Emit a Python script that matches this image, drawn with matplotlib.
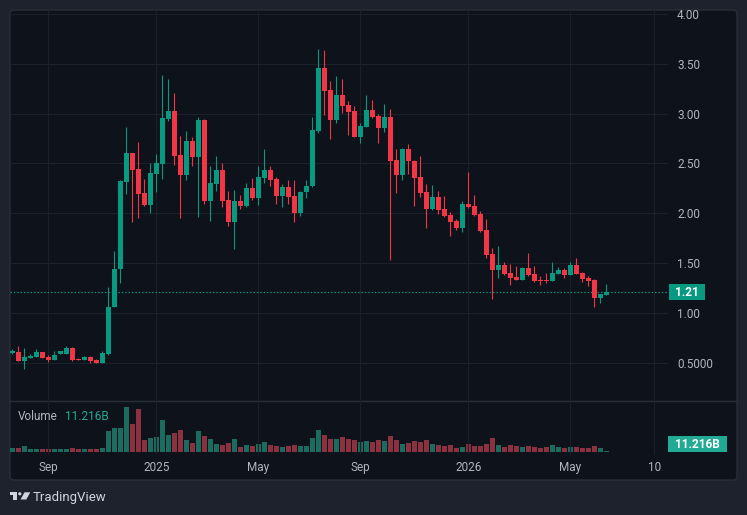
import matplotlib
matplotlib.use('Agg')
import matplotlib.pyplot as plt
from matplotlib.patches import FancyBboxPatch, Rectangle, Polygon, Circle
import numpy as np

plt.rcParams['font.family'] = ['Roboto', 'DejaVu Sans']

# weekly candles (price in USD)
opens = [0.601, 0.608, 0.518, 0.548, 0.558, 0.608, 0.558, 0.528, 0.588, 0.588,
         0.648, 0.541, 0.528, 0.558, 0.528, 0.498, 0.588, 1.060, 1.441, 2.314,
         2.605, 2.445, 2.204, 2.083, 2.394, 2.495, 2.946, 3.027, 2.585, 2.384,
         2.726, 2.565, 2.936, 2.123, 2.294, 2.435, 2.133, 1.913, 2.123, 2.073,
         2.254, 2.154, 2.354, 2.435, 2.344, 2.174, 2.264, 2.174, 2.003, 2.214,
         2.274, 2.826, 3.458, 3.237, 2.936, 3.187, 3.087, 3.027, 2.766, 2.866,
         3.037, 2.976, 2.856, 2.966, 2.535, 2.384, 2.645, 2.525, 2.364, 2.214,
         2.043, 2.164, 2.043, 1.983, 1.923, 1.853, 2.093, 2.073, 1.993, 1.833,
         1.592, 1.431, 1.481, 1.401, 1.361, 1.331, 1.451, 1.391, 1.331, 1.331,
         1.321, 1.391, 1.431, 1.381, 1.481, 1.401, 1.351, 1.331, 1.150, 1.180]
highs = [0.641, 0.668, 0.648, 0.588, 0.638, 0.608, 0.578, 0.618, 0.618, 0.668,
         0.658, 0.548, 0.568, 0.568, 0.538, 0.618, 1.260, 1.622, 2.334, 2.866,
         2.605, 2.716, 2.344, 2.505, 2.595, 3.388, 3.348, 3.207, 2.776, 2.826,
         2.766, 2.966, 2.946, 2.475, 2.575, 2.505, 2.224, 2.234, 2.184, 2.304,
         2.354, 2.475, 2.645, 2.475, 2.364, 2.294, 2.334, 2.334, 2.224, 2.334,
         2.966, 3.649, 3.639, 3.328, 3.378, 3.348, 3.127, 3.077, 2.906, 3.187,
         3.137, 2.996, 3.097, 3.047, 2.645, 2.655, 2.695, 2.535, 2.575, 2.294,
         2.284, 2.224, 2.174, 2.013, 1.943, 2.123, 2.414, 2.184, 2.023, 1.943,
         1.652, 1.672, 1.511, 1.491, 1.471, 1.461, 1.602, 1.471, 1.371, 1.401,
         1.511, 1.461, 1.451, 1.511, 1.551, 1.411, 1.371, 1.341, 1.190, 1.291]
lows = [0.588, 0.518, 0.438, 0.548, 0.558, 0.548, 0.508, 0.528, 0.588, 0.588,
        0.518, 0.528, 0.528, 0.498, 0.498, 0.498, 0.578, 1.060, 1.301, 2.194,
        1.913, 1.953, 2.073, 2.003, 2.214, 2.344, 2.926, 2.485, 1.953, 2.334,
        2.475, 1.963, 2.093, 1.923, 2.224, 2.063, 1.873, 1.642, 2.043, 2.063,
        2.133, 2.083, 2.304, 2.274, 2.093, 2.063, 2.093, 1.913, 1.973, 2.154,
        2.264, 2.806, 2.986, 2.746, 2.906, 3.007, 2.786, 2.766, 2.706, 2.866,
        2.956, 2.706, 2.816, 1.531, 2.204, 2.334, 2.394, 2.073, 2.164, 1.853,
        2.033, 1.993, 1.963, 1.772, 1.833, 1.812, 2.053, 1.973, 1.812, 1.551,
        1.140, 1.351, 1.381, 1.281, 1.331, 1.331, 1.371, 1.311, 1.281, 1.301,
        1.321, 1.391, 1.351, 1.381, 1.391, 1.311, 1.271, 1.060, 1.100, 1.180]
closes = [0.618, 0.518, 0.558, 0.571, 0.608, 0.548, 0.528, 0.578, 0.618, 0.648,
          0.528, 0.528, 0.558, 0.518, 0.498, 0.598, 1.060, 1.441, 2.324, 2.605,
          2.435, 2.194, 2.083, 2.405, 2.505, 2.956, 3.027, 2.575, 2.384, 2.726,
          2.565, 2.936, 2.123, 2.304, 2.435, 2.123, 1.913, 2.123, 2.073, 2.254,
          2.154, 2.364, 2.435, 2.334, 2.174, 2.264, 2.164, 2.003, 2.214, 2.274,
          2.836, 3.458, 3.227, 2.936, 3.187, 3.077, 3.017, 2.766, 2.876, 3.037,
          2.966, 2.856, 2.966, 2.525, 2.384, 2.645, 2.525, 2.354, 2.204, 2.043,
          2.164, 2.033, 1.973, 1.913, 1.853, 2.093, 2.063, 1.983, 1.822, 1.582,
          1.431, 1.481, 1.391, 1.351, 1.331, 1.451, 1.381, 1.321, 1.321, 1.321,
          1.401, 1.431, 1.381, 1.481, 1.391, 1.341, 1.321, 1.150, 1.190, 1.210]
# weekly volume, billions
volumes = [10, 10, 14.2, 6.7, 6.7, 6.7, 6.7, 6.7, 6.7, 6.7,
           10, 6.7, 6.7, 6.7, 6.7, 10, 51.8, 59.2, 59.2, 111.8,
           69.2, 106.8, 29.2, 34.2, 35.8, 79.2, 41.8, 46.8, 55, 29.2,
           21.8, 51.8, 38.2, 31.8, 19.2, 16.8, 21.8, 31.8, 11.8, 16.8,
           14.2, 19.2, 24.2, 16.8, 14.2, 11.8, 14.2, 16.8, 14.2, 14.2,
           35, 55, 42.5, 32.5, 32.5, 37.5, 32.5, 30, 25, 27.5,
           25, 30, 27.5, 40, 30, 20, 22.5, 27.5, 25, 30,
           20, 17.5, 15, 17.5, 10, 12.5, 20, 15, 15, 20,
           35, 17.5, 12.5, 17.5, 15, 12.5, 15, 12.5, 10, 12.5,
           17.5, 12.5, 10, 12.5, 12.5, 10, 10, 15, 10, 0.8]

tick_idx = [6, 24, 41, 58, 76, 93, 107]
tick_labels = ['Sep', '2025', 'May', 'Sep', '2026', 'May', '10']
price_ticks = [0.5, 1.0, 1.5, 2.0, 2.5, 3.0, 3.5, 4.0]
price_labels = ['0.5000', '1.00', '1.50', '2.00', '2.50', '3.00', '3.50', '4.00']
last_price = 1.21
last_volume = '11.216B'

UP, DOWN = '#089981', '#f23645'
VUP, VDOWN = '#1b6b5e', '#8c313f'
TXT = '#b2b5be'
GRID = '#1c202b'
BG = '#0e121a'

W, H = 747, 515
fig = plt.figure(figsize=(W / 100, H / 100), dpi=100, facecolor='#1e222d')


def rect(x0, y0, x1, y1):
    return [x0 / W, 1 - y1 / H, (x1 - x0) / W, (y1 - y0) / H]


bg = fig.add_axes([0, 0, 1, 1], zorder=0)
bg.set_xlim(0, W)
bg.set_ylim(H, 0)
bg.axis('off')
bg.add_patch(FancyBboxPatch((10, 10), 727, 470, boxstyle='round,pad=0,rounding_size=4',
                            fc=BG, ec='#2a2e39', lw=1))
bg.plot([10, 737], [400.5, 400.5], color='#2a2e39', lw=1)

x = np.arange(len(opens))
o = np.array(opens)
c = np.array(closes)
up = c >= o
colors = np.where(up, UP, DOWN)

ax = fig.add_axes(rect(10, 10, 668, 400), zorder=1)
ax.set_facecolor('none')
ax.vlines(x, lows, highs, color=colors, lw=0.8, zorder=3)
body = np.maximum(np.abs(c - o), 0.009)
ax.bar(x, body, bottom=np.minimum(o, c), width=0.78, color=colors, lw=0, zorder=4)
ax.axhline(last_price, color=UP, lw=0.9, ls=(0, (1.1, 1.6)), zorder=2)
ax.set_xlim(-0.38, 109.3)
ax.set_ylim(0.1265, 4.04)
ax.yaxis.tick_right()
ax.set_yticks(price_ticks, price_labels)
ax.set_xticks(tick_idx)
ax.tick_params(axis='y', length=0, pad=6.5, labelsize=8.5, colors=TXT)
ax.tick_params(axis='x', length=0, labelbottom=False)
ax.grid(True, color=GRID, lw=0.8)
for s in ax.spines.values():
    s.set_visible(False)

axv = fig.add_axes(rect(10, 400, 668, 455), zorder=1)
axv.set_facecolor('none')
axv.bar(x, volumes, width=0.78, color=np.where(up, VUP, VDOWN), lw=0)
axv.set_xlim(-0.38, 109.3)
axv.set_ylim(-3.3 * 2.5, 51.7 * 2.5)
axv.set_yticks([])
axv.set_xticks(tick_idx, tick_labels)
axv.tick_params(axis='x', length=0, pad=4, labelsize=8.5, colors=TXT)
axv.grid(True, axis='x', color=GRID, lw=0.8)
for s in axv.spines.values():
    s.set_visible(False)

fg = fig.add_axes([0, 0, 1, 1], zorder=5)
fg.set_xlim(0, W)
fg.set_ylim(H, 0)
fg.axis('off')
fg.set_facecolor('none')

# last price / volume badges
fg.add_patch(Rectangle((669, 284), 36, 16, fc=UP, lw=0))
fg.text(687, 292.5, '1.21', color='white', fontsize=8.5, fontweight='bold', ha='center', va='center')
fg.add_patch(Rectangle((668, 436), 59, 16, fc='#22ab94', lw=0))
fg.text(697.5, 444.5, last_volume, color='white', fontsize=8.5, fontweight='bold', ha='center', va='center')

fg.text(18, 417, 'Volume', color=TXT, fontsize=8.5, ha='left', va='center')
fg.text(65, 417, last_volume, color='#22ab94', fontsize=8.5, ha='left', va='center')

# TradingView logo
fg.add_patch(Polygon([(9.5, 492.3), (16.8, 492.3), (16.8, 499.5), (13.3, 499.5), (13.3, 495), (9.5, 495)],
                     fc='#d1d4dc', lw=0))
fg.add_patch(Circle((19.8, 493.8), 1.6, fc='#d1d4dc', lw=0))
fg.add_patch(Polygon([(24.5, 492.3), (30.3, 492.3), (26.3, 499.5), (20.5, 499.5)], fc='#d1d4dc', lw=0))
fg.text(33, 497, 'TradingView', color='#d1d4dc', fontsize=9.5, ha='left', va='center')

fig.savefig('out.png', dpi=100, facecolor=fig.get_facecolor())
